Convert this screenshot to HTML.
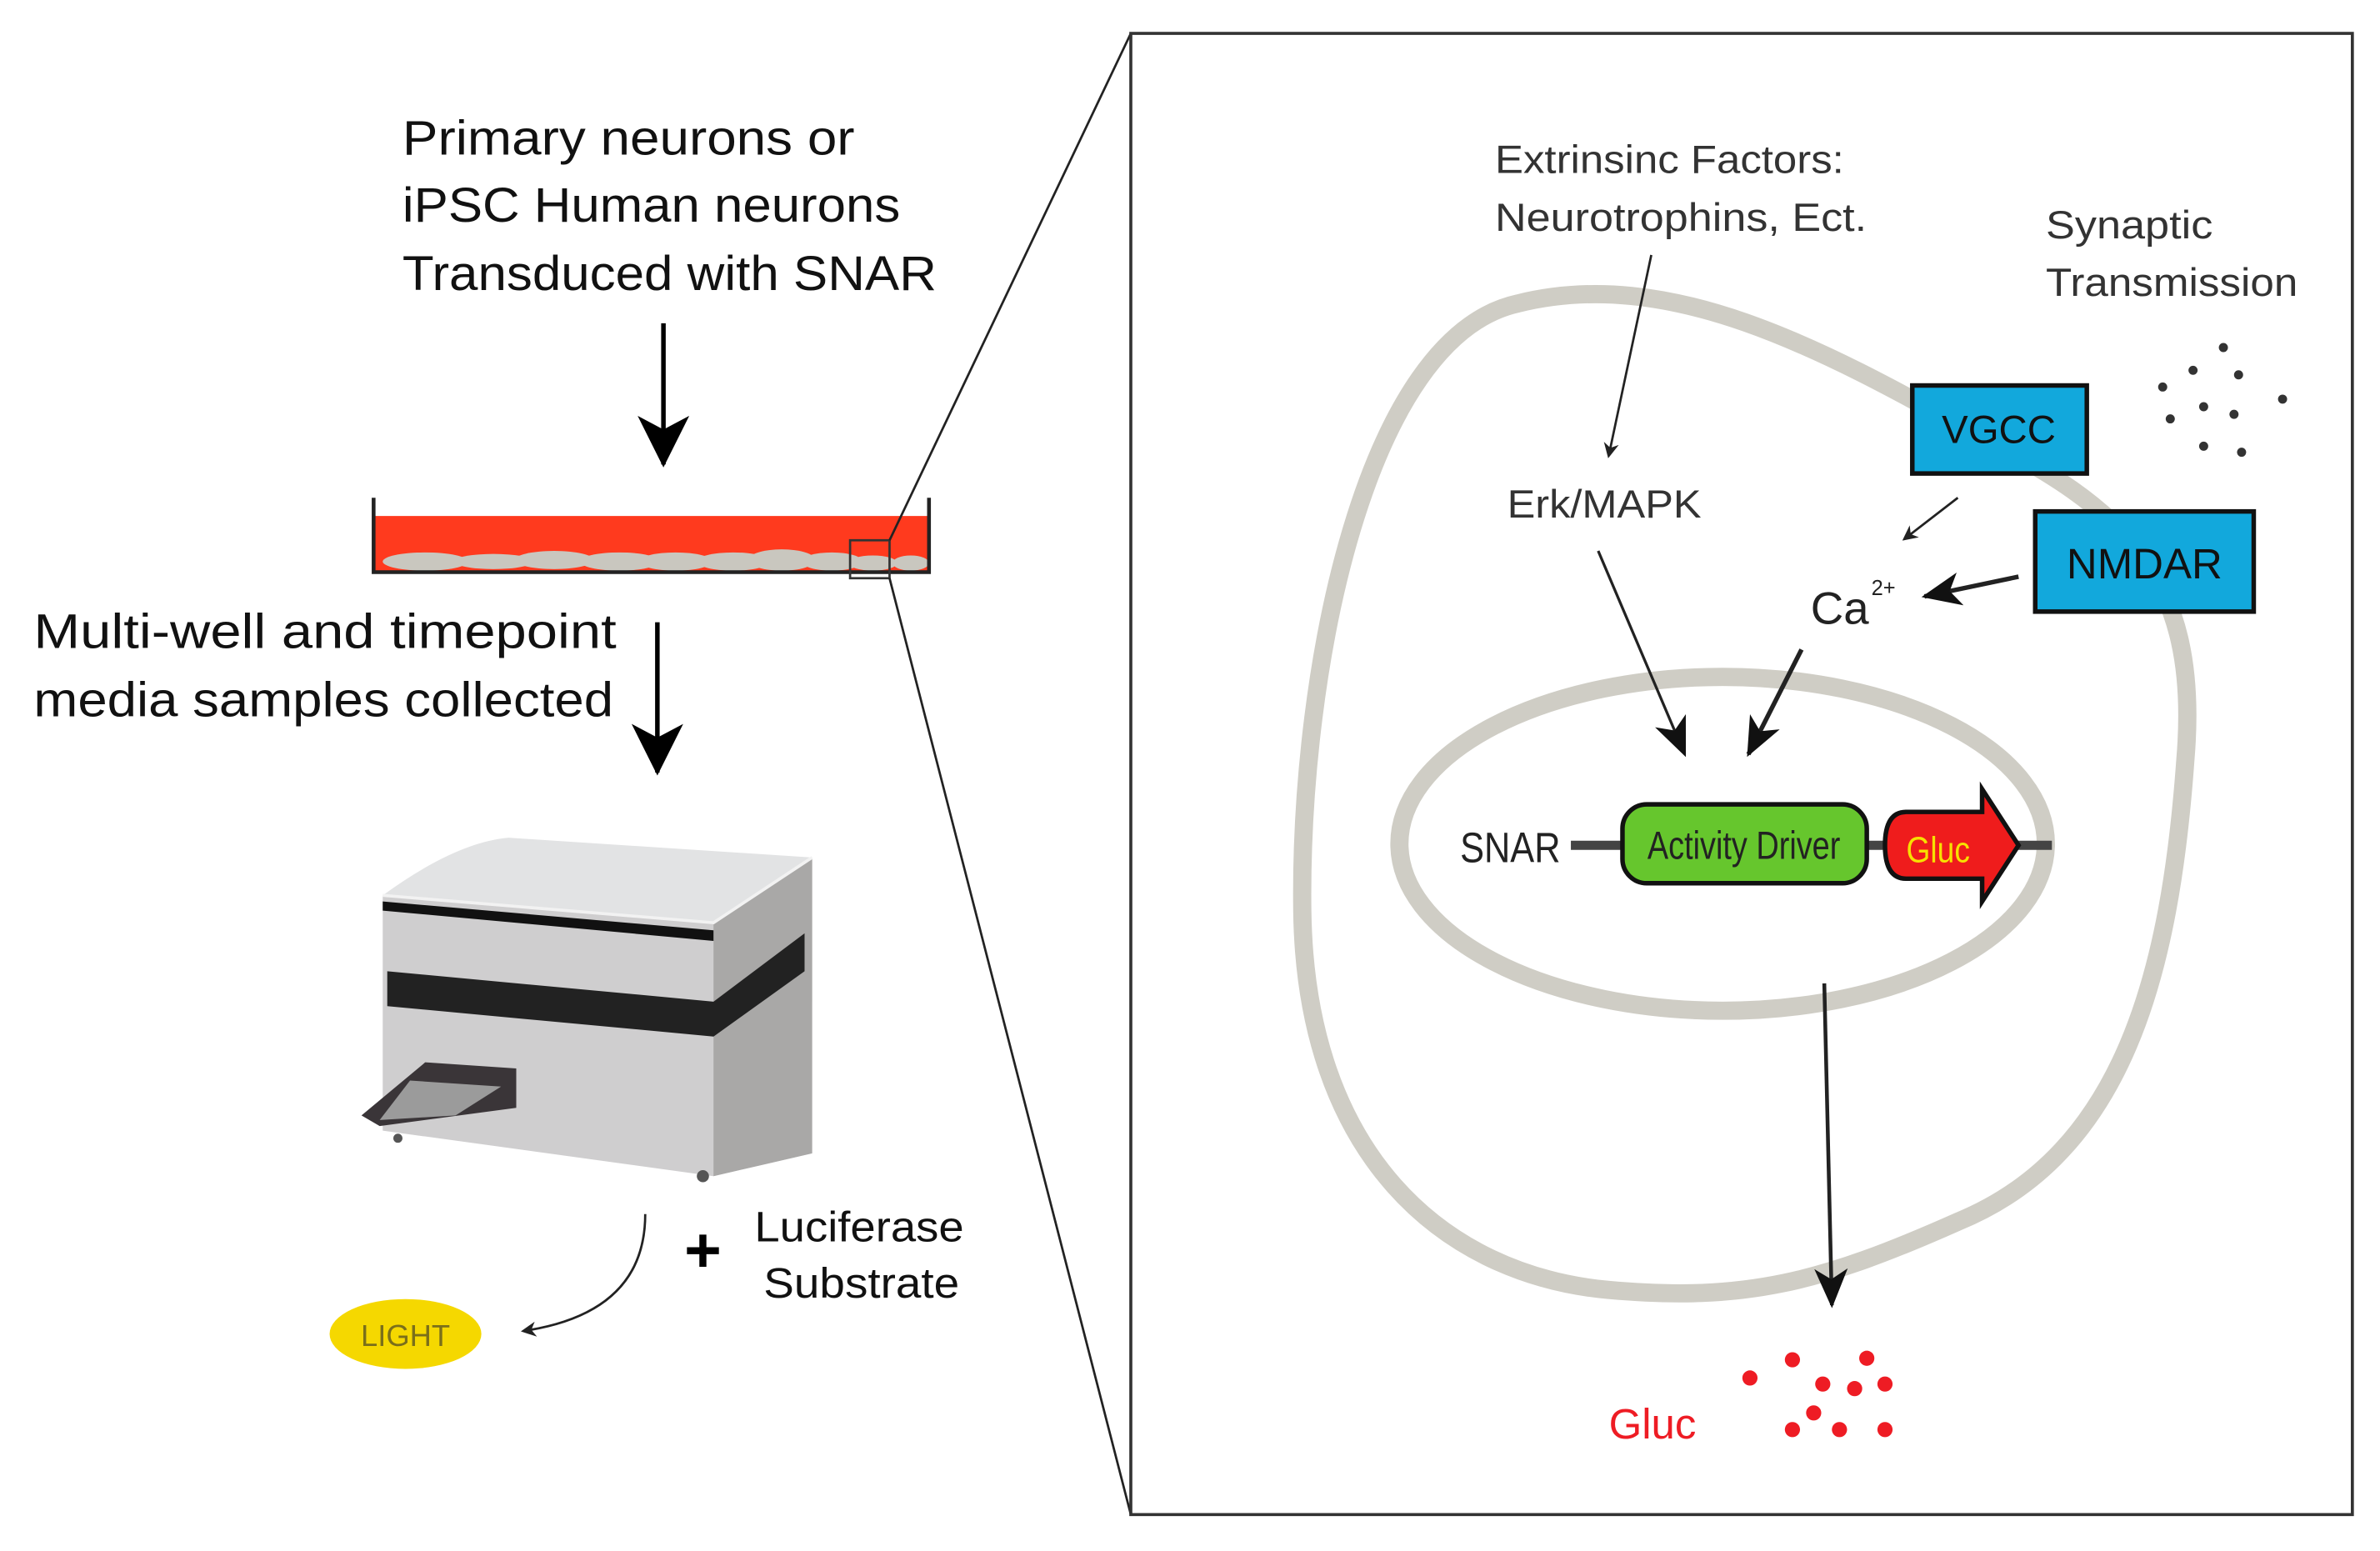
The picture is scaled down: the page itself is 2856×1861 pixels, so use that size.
<!DOCTYPE html>
<html><head><style>html,body{margin:0;padding:0;background:#fff}svg{display:block}</style></head><body>
<svg width="2856" height="1861" viewBox="0 0 1568 1022" xmlns="http://www.w3.org/2000/svg" font-family="Liberation Sans, sans-serif">
<defs>
<marker id="a" markerWidth="10" markerHeight="10" refX="8" refY="5" orient="auto" markerUnits="userSpaceOnUse"><path d="M0,0 L10,5 L0,10 L3,5 Z" fill="#222"/></marker>
<marker id="b" markerWidth="26" markerHeight="22" refX="24" refY="11" orient="auto" markerUnits="userSpaceOnUse"><path d="M0,0 L26,11 L0,22 L7,11 Z" fill="#111"/></marker>
<marker id="c" markerWidth="34" markerHeight="34" refX="32" refY="17" orient="auto" markerUnits="userSpaceOnUse"><path d="M0,0 L34,17 L0,34 L9,17 Z" fill="#000"/></marker>
</defs>
<g font-size="32" fill="#111">
<text x="265" y="102" textLength="298" lengthAdjust="spacingAndGlyphs">Primary neurons or</text>
<text x="265" y="146" textLength="328" lengthAdjust="spacingAndGlyphs">iPSC Human neurons</text>
<text x="265" y="191" textLength="352" lengthAdjust="spacingAndGlyphs">Transduced with SNAR</text>
<text x="22" y="427" textLength="384" lengthAdjust="spacingAndGlyphs">Multi-well and timepoint</text>
<text x="22" y="472" textLength="382" lengthAdjust="spacingAndGlyphs">media samples collected</text>
</g>
<line x1="437" y1="213" x2="437" y2="306" stroke="#000" stroke-width="3" marker-end="url(#c)"/>
<line x1="433" y1="410" x2="433" y2="509" stroke="#000" stroke-width="3" marker-end="url(#c)"/>
<!-- dish -->
<rect x="247" y="340" width="364" height="36" fill="#ff3a1e"/>
<g fill="#c9c7bf">
<ellipse cx="280" cy="370" rx="28" ry="6"/><ellipse cx="325" cy="370" rx="26" ry="5"/><ellipse cx="365" cy="369" rx="26" ry="6"/><ellipse cx="408" cy="370" rx="26" ry="6"/><ellipse cx="445" cy="370" rx="24" ry="6"/><ellipse cx="483" cy="370" rx="24" ry="6"/><ellipse cx="515" cy="369" rx="22" ry="7"/><ellipse cx="548" cy="370" rx="20" ry="6"/><ellipse cx="575" cy="371" rx="16" ry="5"/><ellipse cx="600" cy="371" rx="12" ry="5"/>
</g>
<path d="M246,328 V377 H612 V328" fill="none" stroke="#222" stroke-width="2.5"/>
<rect x="560" y="356" width="26" height="25" fill="none" stroke="#333" stroke-width="1.5"/>
<line x1="586" y1="356" x2="745" y2="22" stroke="#222" stroke-width="1.5"/>
<line x1="586" y1="381" x2="745" y2="998" stroke="#222" stroke-width="1.5"/>
<!-- machine -->
<path d="M252,590 Q300,555 335,552 L535,565 L535,660 Z" fill="#e2e3e4"/>
<path d="M252,590 L470,608 L535,565 L535,760 L470,775 L252,745 Z" fill="#cfcecf"/>
<path d="M470,608 L535,565 L535,760 L470,775 Z" fill="#a9a8a7"/>
<path d="M252,600 L470,620 L470,613 L252,594 Z" fill="#111"/>
<path d="M255,663 L470,683 L530,640 L530,615 L470,660 L255,640 Z" fill="#222"/>
<path d="M252,590 L470,608 L535,565" fill="none" stroke="#f2f2f2" stroke-width="2"/>
<path d="M280,700 L340,704 L340,730 L250,742 L238,735 Z" fill="#3a3538"/>
<path d="M270,712 L330,716 L300,735 L250,738 Z" fill="#9b9b9b"/>
<circle cx="463" cy="775" r="4" fill="#555"/><circle cx="262" cy="750" r="3" fill="#555"/>
<!-- light -->
<path d="M425,800 Q425,865 345,877" fill="none" stroke="#222" stroke-width="1.5" marker-end="url(#a)"/>
<text x="463" y="838" font-size="42" font-weight="bold" text-anchor="middle">+</text>
<text x="497" y="818" font-size="28" fill="#111" textLength="138" lengthAdjust="spacingAndGlyphs">Luciferase</text>
<text x="503" y="855" font-size="28" fill="#111" textLength="129" lengthAdjust="spacingAndGlyphs">Substrate</text>
<ellipse cx="267" cy="879" rx="50" ry="23" fill="#f5d800"/>
<text x="267" y="887" font-size="20" text-anchor="middle" fill="#7a6f1a">LIGHT</text>
<!-- right box -->
<rect x="745" y="22" width="805" height="976" fill="none" stroke="#333" stroke-width="2"/>
<path d="M1000,200 C1100,175 1200,230 1300,285 C1400,335 1450,380 1440,500 C1430,640 1400,760 1290,805 C1200,845 1150,858 1060,850 C950,840 860,760 858,600 C856,440 900,222 1000,200 Z" fill="none" stroke="#cfcdc5" stroke-width="12"/>
<ellipse cx="1135" cy="556" rx="213" ry="110" fill="none" stroke="#cfcdc5" stroke-width="12"/>
<g font-size="26" fill="#333">
<text x="985" y="114" textLength="230" lengthAdjust="spacingAndGlyphs">Extrinsinc Factors:</text>
<text x="985" y="152" textLength="245" lengthAdjust="spacingAndGlyphs">Neurotrophins, Ect.</text>
<text x="1348" y="157" textLength="110" lengthAdjust="spacingAndGlyphs">Synaptic</text>
<text x="1348" y="195" textLength="166" lengthAdjust="spacingAndGlyphs">Transmission</text>
<text x="993" y="341" textLength="128" lengthAdjust="spacingAndGlyphs">Erk/MAPK</text>
</g>
<text x="1193" y="411" font-size="30" fill="#222">Ca</text>
<text x="1233" y="392" font-size="14" fill="#222">2+</text>
<rect x="1260" y="254" width="115" height="58" fill="#12a8dc" stroke="#111" stroke-width="3"/>
<text x="1317" y="292" font-size="26" text-anchor="middle" fill="#111">VGCC</text>
<rect x="1341" y="337" width="144" height="66" fill="#12a8dc" stroke="#111" stroke-width="3"/>
<text x="1413" y="381" font-size="28" text-anchor="middle" fill="#111">NMDAR</text>
<g fill="#333">
<circle cx="1465" cy="229" r="3"/><circle cx="1445" cy="244" r="3"/><circle cx="1475" cy="247" r="3"/><circle cx="1425" cy="255" r="3"/><circle cx="1452" cy="268" r="3"/><circle cx="1472" cy="273" r="3"/><circle cx="1504" cy="263" r="3"/><circle cx="1430" cy="276" r="3"/><circle cx="1452" cy="294" r="3"/><circle cx="1477" cy="298" r="3"/>
</g>
<line x1="1088" y1="168" x2="1060" y2="300" stroke="#222" stroke-width="1.5" marker-end="url(#a)"/>
<line x1="1053" y1="363" x2="1110" y2="497" stroke="#222" stroke-width="1.8" marker-end="url(#b)"/>
<line x1="1187" y1="428" x2="1152" y2="497" stroke="#222" stroke-width="3" marker-end="url(#b)"/>
<line x1="1290" y1="328" x2="1255" y2="355" stroke="#222" stroke-width="1.5" marker-end="url(#a)"/>
<line x1="1330" y1="380" x2="1268" y2="393" stroke="#222" stroke-width="3" marker-end="url(#b)"/>
<line x1="1202" y1="648" x2="1207" y2="860" stroke="#222" stroke-width="2.5" marker-end="url(#b)"/>
<!-- gene -->
<line x1="1035" y1="557" x2="1352" y2="557" stroke="#444" stroke-width="6"/>
<text x="962" y="568" font-size="28" fill="#222" transform="translate(962,0) scale(0.85,1) translate(-962,0)">SNAR</text>
<rect x="1069" y="530" width="161" height="52" rx="16" fill="#66c62d" stroke="#111" stroke-width="3"/>
<text x="1149" y="566" font-size="26" text-anchor="middle" fill="#222" transform="translate(1149,0) scale(0.8,1) translate(-1149,0)">Activity Driver</text>
<path d="M1256,535 H1306 V520 L1330,557 L1306,594 V579 H1256 Q1242,579 1242,557 Q1242,535 1256,535 Z" fill="#ef1c1c" stroke="#111" stroke-width="3"/>
<text x="1277" y="568" font-size="24" text-anchor="middle" fill="#f7e100" transform="translate(1277,0) scale(0.85,1) translate(-1277,0)">Gluc</text>
<text x="1060" y="948" font-size="28" fill="#ee1c24">Gluc</text>
<g fill="#ee1c24">
<circle cx="1153" cy="908" r="5"/><circle cx="1181" cy="896" r="5"/><circle cx="1230" cy="895" r="5"/><circle cx="1201" cy="912" r="5"/><circle cx="1222" cy="915" r="5"/><circle cx="1242" cy="912" r="5"/><circle cx="1195" cy="931" r="5"/><circle cx="1181" cy="942" r="5"/><circle cx="1212" cy="942" r="5"/><circle cx="1242" cy="942" r="5"/>
</g>
</svg>
</body></html>
